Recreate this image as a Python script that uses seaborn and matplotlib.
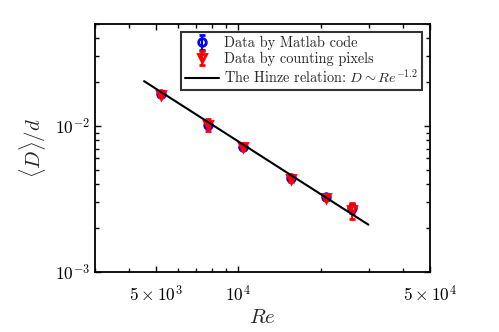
import numpy as np
import matplotlib
matplotlib.use('Agg')
import matplotlib.pyplot as plt
import seaborn as sns
from matplotlib.ticker import FixedLocator, FixedFormatter, LogLocator, NullFormatter

# Data
re_vals = [5205, 7780, 10370, 15550, 20840, 26070]
d_matlab = [0.0166, 0.0102, 0.00724, 0.00441, 0.00326, 0.00274]
err_matlab = [0.0004, 0.0003, 0.0002, 0.0001, 0.0001, 0.0002]
d_pixels = [0.0163, 0.0102, 0.00715, 0.00432, 0.00322, 0.00264]
err_pixels = [0.0005, 0.0010, 0.0003, 0.0002, 0.0001, 0.00033]

# Hinze relation line end points
line_re = [4530, 29800]
line_d = [0.0203, 0.00211]

x_ticks = [5e3, 1e4, 5e4]
x_ticklabels = [r'$5\times10^3$', r'$10^4$', r'$5\times10^4$']
y_ticks = [1e-3, 1e-2]
y_ticklabels = [r'$10^{-3}$', r'$10^{-2}$']

sns.set_style('ticks')
plt.rcParams.update({
    'font.family': 'serif',
    'font.serif': ['cmr10'],
    'mathtext.fontset': 'cm',
    'axes.unicode_minus': False,
    'axes.formatter.use_mathtext': True,
    'axes.edgecolor': 'black',
    'xtick.color': 'black',
    'ytick.color': 'black',
})

fig = plt.figure(figsize=(4.99, 3.32), dpi=100)
ax = fig.add_axes([0.1904, 0.1807, 0.6713, 0.747])

h1 = ax.errorbar(re_vals, d_matlab, yerr=err_matlab, fmt='o', color='blue',
                 mfc='none', mew=2, ms=5.5, capsize=2.5, elinewidth=1.5,
                 capthick=1.5, zorder=3)
h2 = ax.errorbar(re_vals, d_pixels, yerr=err_pixels, fmt='v', color='red',
                 mfc='none', mew=2, ms=5.5, capsize=2.5, elinewidth=1.5,
                 capthick=1.5, zorder=4)
sns.lineplot(x=line_re, y=line_d, ax=ax, color='black', linewidth=1.5,
             zorder=5, legend=False)
h3 = ax.lines[-1]

ax.set_xscale('log')
ax.set_yscale('log')
ax.set_xlim(3000, 50000)
ax.set_ylim(1e-3, 5e-2)

ax.xaxis.set_major_locator(FixedLocator(x_ticks))
ax.xaxis.set_major_formatter(FixedFormatter(x_ticklabels))
ax.xaxis.set_minor_locator(LogLocator(base=10, subs=np.arange(2, 10)))
ax.xaxis.set_minor_formatter(NullFormatter())
ax.yaxis.set_major_locator(FixedLocator(y_ticks))
ax.yaxis.set_major_formatter(FixedFormatter(y_ticklabels))
ax.yaxis.set_minor_locator(LogLocator(base=10, subs=np.arange(2, 10)))
ax.yaxis.set_minor_formatter(NullFormatter())

ax.tick_params(which='both', direction='in', top=True, right=True,
               length=4, width=1, labelsize=12.5)
ax.tick_params(which='minor', length=3)
ax.tick_params(axis='x', pad=9)
for sp in ax.spines.values():
    sp.set_linewidth(1.3)
    sp.set_visible(True)

ax.set_xlabel(r'$Re$', fontsize=15, labelpad=3)
ax.set_ylabel(r'$\langle D\rangle/d$', fontsize=15, labelpad=5)

leg = ax.legend([h1, h2, h3],
                ['Data by Matlab code', 'Data by counting pixels',
                 r'The Hinze relation: $D\sim Re^{-1.2}$'],
                loc='upper right', fontsize=10.3, frameon=True, fancybox=False,
                edgecolor='#333333', framealpha=1, borderaxespad=0.55,
                handlelength=2.4, labelspacing=0.12, handletextpad=0.3,
                borderpad=0.3)
leg.get_frame().set_linewidth(1.5)

fig.savefig('out.png', dpi=100)
